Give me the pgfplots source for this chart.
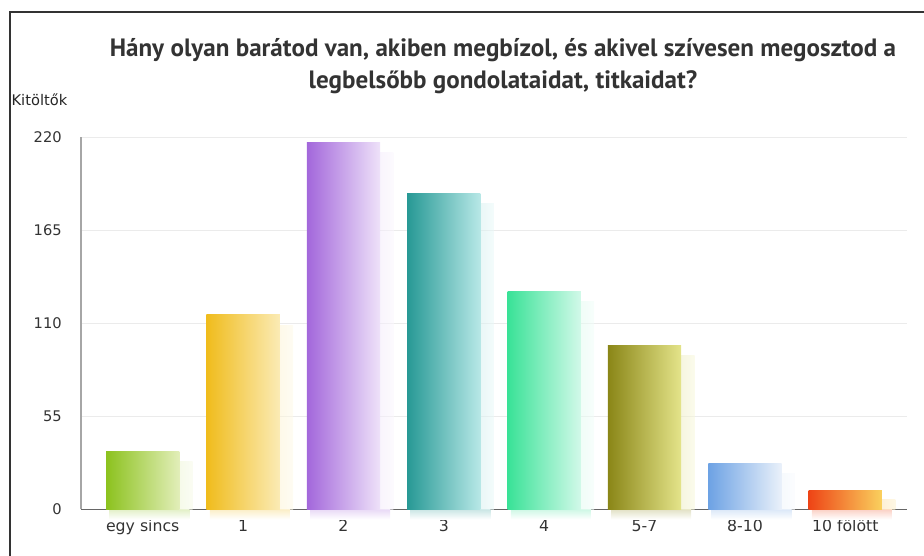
\documentclass[border=0pt]{standalone}
\usepackage{pgfplots}
\pgfplotsset{compat=1.18}
\usepackage{fontspec}
\setmainfont{DejaVu Sans}
\newfontfamily\titlefont{PT Sans}

\definecolor{dA}{HTML}{8CC21E}\definecolor{lA}{HTML}{E2EEB9}
\definecolor{dB}{HTML}{F0BC1C}\definecolor{lB}{HTML}{FBEBB5}
\definecolor{dC}{HTML}{A367DB}\definecolor{lC}{HTML}{EEE2F9}
\definecolor{dD}{HTML}{279995}\definecolor{lD}{HTML}{B8E8E7}
\definecolor{dE}{HTML}{39E297}\definecolor{lE}{HTML}{D2F9E9}
\definecolor{dF}{HTML}{8A8617}\definecolor{lF}{HTML}{E4E48A}
\definecolor{dG}{HTML}{6DA2E4}\definecolor{lG}{HTML}{EAF1FA}
\definecolor{dH}{HTML}{EE4416}\definecolor{lH}{HTML}{FAD15E}
\definecolor{txt}{HTML}{333333}

% x, value, shadow top, dark, light
\newcommand{\cbar}[5]{%
 \addplot[ybar, bar width=60pt, bar shift=5pt, draw=none, top color=#4!25, bottom color=white, forget plot] coordinates {(#1,-6)};
 \addplot[ybar, bar width=55pt, bar shift=10pt, draw=none, left color=#5!70!#4, right color=#5!30, opacity=0.55, forget plot] coordinates {(#1,#3)};
 \addplot[ybar, bar width=55pt, bar shift=0pt, draw=none, left color=#4, right color=#5, forget plot] coordinates {(#1,#2)};
}

\begin{document}
\begin{tikzpicture}
\path[use as bounding box] (0,0) rectangle (693pt,417pt);
\begin{axis}[
  at={(60.75pt,35pt)}, anchor=south west,
  width=619.5pt, height=279pt, scale only axis,
  xmin=-0.615, xmax=7.615, ymin=0, ymax=220,
  ytick={0,55,110,165,220},
  xtick={0,...,7},
  xticklabels={egy sincs,1,2,3,4,5-7,8-10,10 fölött},
  axis lines*=left,
  x axis line style={color=black!60, line width=0.8pt},
  y axis line style={color=black!35, line width=0.8pt},
  major tick length=0pt,
  ymajorgrids, grid style={color=black!8, line width=0.8pt},
  clip=false,
  /pgf/number format/assume math mode=true,
  tick label style={font=\fontsize{11}{13}\selectfont, color=txt},
  xticklabel style={font=\fontsize{11.8}{13}\selectfont},
  yticklabel style={anchor=east, inner sep=0pt, xshift=-14.25pt},
  xticklabel style={anchor=base, inner sep=0pt, yshift=-17pt},
]
\cbar{0}{34}{28}{dA}{lA}
\cbar{1}{115}{109}{dB}{lB}
\cbar{2}{217}{211}{dC}{lC}
\cbar{3}{187}{181}{dD}{lD}
\cbar{4}{129}{123}{dE}{lE}
\cbar{5}{97}{91}{dF}{lF}
\cbar{6}{27}{21}{dG}{lG}
\cbar{7}{11}{6}{dH}{lH}
\end{axis}
\draw[line width=1.5pt, color=black!80] (7.5pt,-2pt) -- (7.5pt,408pt) -- (695pt,408pt);
\node[anchor=base, inner sep=0pt, text=txt, font=\titlefont\bfseries\fontsize{18.8}{22}\selectfont] at (377.25pt,374.25pt) {Hány olyan barátod van, akiben megbízol, és akivel szívesen megosztod a};
\node[anchor=base, inner sep=0pt, text=txt, font=\titlefont\bfseries\fontsize{18.8}{22}\selectfont] at (377.25pt,350.25pt) {legbelsőbb gondolataidat, titkaidat?};
\node[anchor=base west, inner sep=0pt, text=black!85, font=\fontsize{11}{13}\selectfont] at (8.5pt,337.5pt) {Kitöltők};
\end{tikzpicture}
\end{document}
